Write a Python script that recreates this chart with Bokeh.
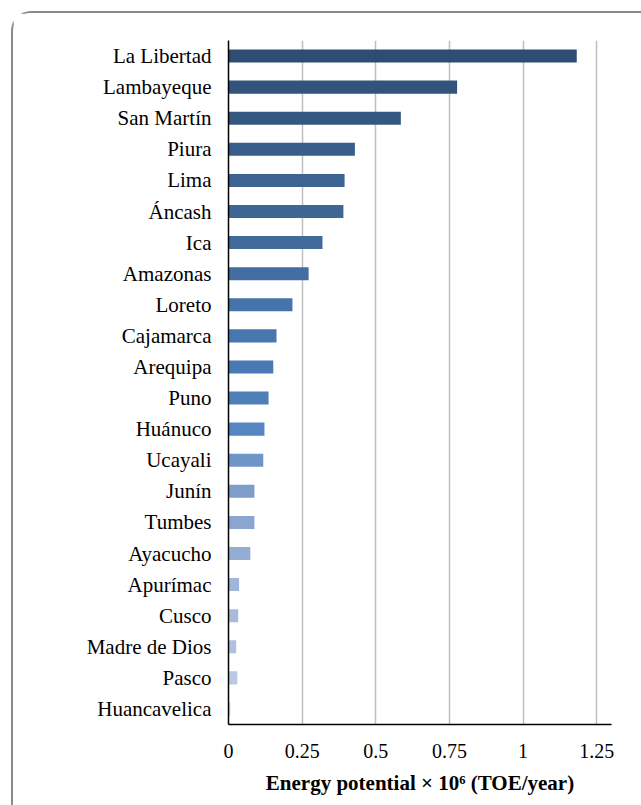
from bokeh.plotting import figure
from bokeh.models import FactorRange, Range1d, FixedTicker, ColumnDataSource
from bokeh.embed import file_html
from bokeh.resources import INLINE

regions = ["La Libertad", "Lambayeque", "San Martín", "Piura", "Lima", "Áncash", "Ica",
           "Amazonas", "Loreto", "Cajamarca", "Arequipa", "Puno", "Huánuco", "Ucayali",
           "Junín", "Tumbes", "Ayacucho", "Apurímac", "Cusco", "Madre de Dios", "Pasco",
           "Huancavelica"]
potential = [1.182, 0.776, 0.585, 0.429, 0.394, 0.390, 0.319, 0.272, 0.217, 0.163, 0.152,
             0.136, 0.122, 0.118, 0.088, 0.088, 0.074, 0.036, 0.033, 0.026, 0.030, 0.006]
colors = ["#2E4D73", "#31547C", "#345882", "#395E8B", "#3C6391", "#3E6695", "#416A9B",
          "#446EA2", "#4673A9", "#4877B0", "#4A7AB4", "#4E7FB9", "#5686C1", "#6F94C7",
          "#7E9DCB", "#89A5D0", "#95ADD3", "#A0B5D7", "#A8BBDA", "#B0C1DD", "#B9C9E3",
          "#C2D0E7"]
tick_values = [0, 0.25, 0.5, 0.75, 1, 1.25]
tick_labels = ["0", "0.25", "0.5", "0.75", "1", "1.25"]
x_title = "Energy potential × 10⁶ (TOE/year)"

FONT = "Liberation Serif"

src = ColumnDataSource(dict(region=regions, value=potential, color=colors))

p = figure(width=628, height=792, output_backend="svg", toolbar_location=None,
           y_range=FactorRange(*regions[::-1]), x_range=Range1d(0, 1.3),
           min_border_left=215, min_border_right=32, min_border_top=27, min_border_bottom=83)
p.background_fill_color = "white"
p.border_fill_color = "white"
p.outline_line_color = None
p.styles = {"margin-left": "11px", "margin-top": "11px",
            "border-top": "2px solid #8A8A8A", "border-left": "2px solid #8A8A8A",
            "border-top-left-radius": "20px", "box-sizing": "content-box"}

p.hbar(y="region", right="value", left=0, height=0.42, color="color", line_color=None, source=src)

p.xgrid.ticker = FixedTicker(ticks=tick_values)
p.xgrid.grid_line_color = "#BEBEBE"
p.xgrid.grid_line_width = 1.5
p.ygrid.grid_line_color = None

xa = p.xaxis[0]
xa.ticker = FixedTicker(ticks=tick_values)
xa.major_label_overrides = {v: l for v, l in zip(tick_values, tick_labels)}
xa.major_tick_line_color = None
xa.minor_tick_line_color = None
xa.major_tick_out = 0
xa.major_tick_in = 0
xa.axis_line_color = "black"
xa.axis_line_width = 1.5
xa.major_label_text_font = FONT
xa.major_label_text_font_size = "20px"
xa.major_label_text_color = "black"
xa.major_label_standoff = 19
xa.axis_label = x_title
xa.axis_label_text_font = FONT
xa.axis_label_text_font_size = "21px"
xa.axis_label_text_font_style = "bold"
xa.axis_label_text_color = "black"
xa.axis_label_standoff = 10

ya = p.yaxis[0]
ya.major_tick_line_color = None
ya.minor_tick_line_color = None
ya.major_tick_out = 0
ya.major_tick_in = 0
ya.axis_line_color = "black"
ya.axis_line_width = 1.5
ya.major_label_text_font = FONT
ya.major_label_text_font_size = "21px"
ya.major_label_text_color = "black"
ya.major_label_standoff = 17

open("out.html", "w").write(file_html(p, INLINE))
